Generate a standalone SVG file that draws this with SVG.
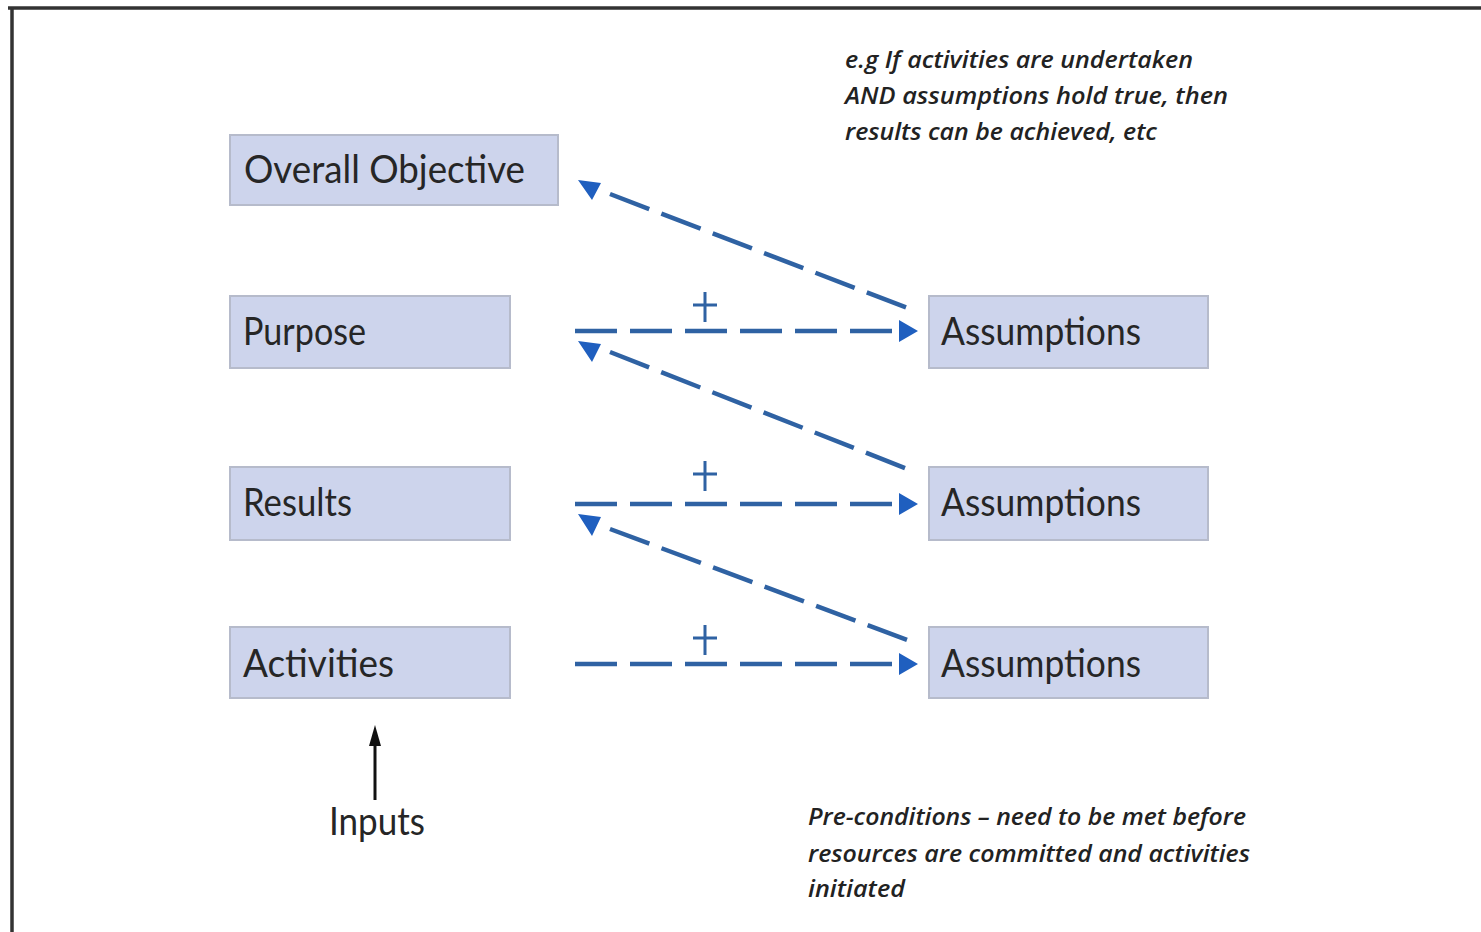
<svg xmlns="http://www.w3.org/2000/svg" width="1481" height="932" viewBox="0 0 1481 932">
<style>
.box{fill:#cdd4ec;stroke:#b6bbcb;stroke-width:2}
.lbl{font-family:Lato,"Open Sans","Liberation Sans",sans-serif;font-size:38px;fill:#262626}
.note{font-family:"Open Sans","Liberation Sans",sans-serif;font-size:24px;font-style:italic;font-weight:600;fill:#222}
.dash{stroke:#2f62a3;stroke-width:4.5;stroke-dasharray:42 13;fill:none}
.plus{stroke:#2f62a3;stroke-width:3;fill:none}
.head{fill:#1f5fbf}
</style>
<rect width="1481" height="932" fill="#fff"/>
<path d="M8 8H1481M12 8V932" stroke="#333" stroke-width="3.5" fill="none"/>
<g id="overall-objective"><rect class="box" x="230" y="135" width="328" height="70"/><text class="lbl" x="244" y="183" textLength="281" lengthAdjust="spacingAndGlyphs">Overall Objective</text></g>
<g id="purpose"><rect class="box" x="230" y="296" width="280" height="72"/><text class="lbl" x="243" y="345" textLength="123" lengthAdjust="spacingAndGlyphs">Purpose</text></g>
<g id="results"><rect class="box" x="230" y="467" width="280" height="73"/><text class="lbl" x="243" y="516" textLength="109" lengthAdjust="spacingAndGlyphs">Results</text></g>
<g id="activities"><rect class="box" x="230" y="627" width="280" height="71"/><text class="lbl" x="243" y="677" textLength="151" lengthAdjust="spacingAndGlyphs">Activities</text></g>
<g id="assumptions-1"><rect class="box" x="929" y="296" width="279" height="72"/><text class="lbl" x="941" y="345" textLength="200" lengthAdjust="spacingAndGlyphs">Assumptions</text></g>
<g id="assumptions-2"><rect class="box" x="929" y="467" width="279" height="73"/><text class="lbl" x="941" y="516" textLength="200" lengthAdjust="spacingAndGlyphs">Assumptions</text></g>
<g id="assumptions-3"><rect class="box" x="929" y="627" width="279" height="71"/><text class="lbl" x="941" y="677" textLength="200" lengthAdjust="spacingAndGlyphs">Assumptions</text></g>
<g id="inputs"><text class="lbl" x="329" y="835" textLength="96" lengthAdjust="spacingAndGlyphs">Inputs</text></g>
<g id="note-top"><text class="note" x="845" y="68" textLength="348" lengthAdjust="spacingAndGlyphs">e.g If activities are undertaken</text><text class="note" x="845" y="104" textLength="383" lengthAdjust="spacingAndGlyphs">AND assumptions hold true, then</text><text class="note" x="845" y="140" textLength="312" lengthAdjust="spacingAndGlyphs">results can be achieved, etc</text></g>
<g id="note-bottom"><text class="note" x="808" y="825" textLength="438" lengthAdjust="spacingAndGlyphs">Pre-conditions – need to be met before</text><text class="note" x="808" y="862" textLength="442" lengthAdjust="spacingAndGlyphs">resources are committed and activities</text><text class="note" x="808" y="897" textLength="97" lengthAdjust="spacingAndGlyphs">initiated</text></g>
<g id="connectors">
<path class="dash" d="M575 331H897M575 504H897M575 664H897"/>
<path class="head" d="M899 320L918 331L899 342ZM899 493L918 504L899 515ZM899 653L918 664L899 675Z"/>
<path class="plus" d="M693 305H717M705 292V322M693 474H717M705 461V491M693 638H717M705 625V655"/>
<path class="dash" d="M610 194L910 309M610 352L910 470M610 529L910 641"/>
<path class="head" d="M578 180L601 183L592 200ZM578 341L601 344L592 362ZM578 514L601 517L592 536Z"/>
<path d="M375 800V742" stroke="#111" stroke-width="3"/>
<path d="M375 725L381 746L369 746Z" fill="#111"/>
</g>
</svg>
